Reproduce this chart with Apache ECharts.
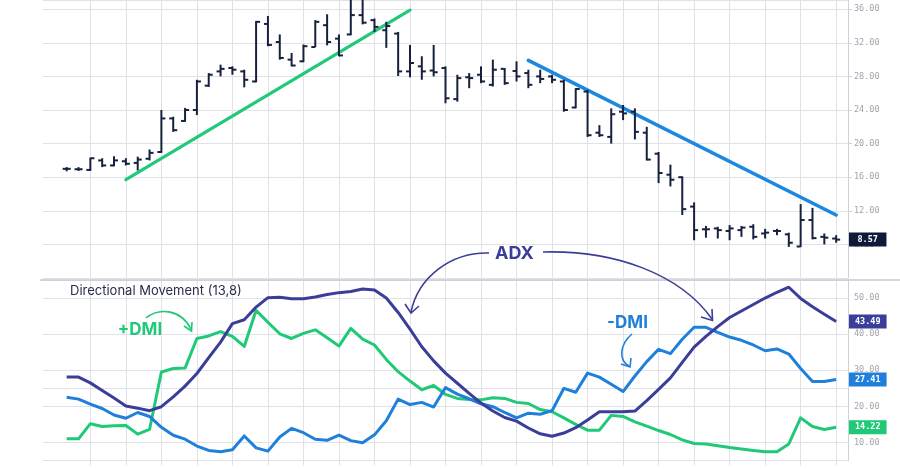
<!DOCTYPE html>
<html><head><meta charset="utf-8">
<script src="https://cdn.jsdelivr.net/npm/echarts@6/dist/echarts.min.js"></script>
<style>html,body{margin:0;padding:0;background:#fff}#c{width:900px;height:470px}</style>
</head><body><div id="c"></div>
<script>
// ---------- data ----------
const PAD = 2; // empty category slots before first bar
const categories = Array.from({length: 69}, (_, k) => String(k - PAD));
const opens  = [17.0,16.95,16.87,18.0,17.4,17.9,17.7,18.2,19.0,23.0,22.7,24.0,26.9,28.6,29.0,28.6,27.4,34.25,32.1,30.0,29.8,31.5,34.1,32.5,33.0,35.3,34.7,33.5,33.1,28.6,29.2,28.7,29.0,25.3,27.9,28.2,27.0,28.9,28.65,28.4,28.0,28.0,27.4,24.3,26.2,21.3,20.8,23.8,23.8,21.3,18.8,16.3,16.0,12.5,9.8,9.9,9.6,9.7,10.1,9.3,9.6,9.2,7.75,10.9,8.9,8.7];
const highs  = [17.2,17.2,18.33,18.26,18.5,18.26,18.45,19.3,24.0,23.2,24.25,27.6,28.4,29.4,29.2,28.8,34.6,35.2,33.0,30.8,31.8,34.7,35.4,33.0,37.5,37.5,34.9,34.5,33.3,31.75,30.4,31.75,29.2,28.2,28.4,29.2,30.0,29.0,29.8,28.8,28.8,28.2,27.6,26.6,26.4,22.2,24.2,24.6,24.2,22.0,19.0,17.5,16.1,13.0,10.2,10.1,10.3,10.2,10.4,9.85,9.85,9.4,12.8,12.35,9.3,9.1];
const lows   = [16.7,16.75,16.75,17.2,17.3,17.4,16.8,18.0,18.9,21.4,22.6,23.4,26.75,28.0,28.2,26.7,27.3,31.6,30.0,29.2,29.7,31.5,31.7,30.4,32.9,34.2,33.3,31.4,28.05,27.9,27.6,28.0,24.8,25.0,26.6,27.2,26.8,27.0,27.4,26.6,27.2,27.2,23.8,24.2,20.8,20.8,20.0,22.8,20.5,18.0,15.3,14.9,11.5,8.5,8.8,8.7,8.5,8.9,8.6,8.7,9.1,7.7,7.7,8.6,8.0,8.2];
const closes = [17.0,16.95,18.26,17.4,18.0,17.6,18.1,18.9,23.0,21.6,24.0,27.4,28.2,28.9,28.8,27.6,34.5,31.75,30.2,29.3,31.6,34.5,32.1,30.5,35.3,34.4,33.9,34.0,28.6,29.6,28.6,28.5,25.4,27.8,27.8,27.4,28.8,27.2,28.0,27.0,27.7,27.6,24.0,26.5,21.0,21.0,23.5,23.6,21.4,18.1,16.5,15.7,12.2,9.7,9.8,9.7,9.9,10.0,8.9,9.4,9.6,8.2,10.9,8.75,8.8,8.57];

const adx      = [28.1,28.1,26.5,24.4,22.3,20.1,19.5,18.8,19.9,22.6,25.6,29.1,33.5,37.8,42.9,44.0,47.5,50.1,50.2,49.8,49.8,50.3,51.0,51.5,51.8,52.5,52.2,50.0,46.0,41.4,36.5,32.6,29.2,26.4,23.6,20.9,18.7,16.9,15.9,14.0,12.4,11.7,12.6,14.1,16.2,18.5,18.5,18.5,18.7,21.6,24.7,27.9,32.2,36.4,39.4,42.1,44.6,46.4,48.2,50.0,51.6,53.0,49.9,47.6,45.5,43.49];
const plusDMI  = [11.0,11.0,15.2,14.4,14.6,14.7,12.3,13.6,29.5,30.5,30.6,38.8,39.5,40.7,39.4,36.6,46.6,43.3,40.1,38.8,40.2,41.2,39.0,36.7,41.6,38.6,37.0,33.0,29.6,27.0,24.6,25.8,23.3,22.2,21.9,21.8,22.4,22.2,21.1,20.8,19.1,18.5,16.8,15.0,13.4,13.4,17.5,17.2,15.7,14.5,13.3,12.2,10.7,9.7,9.6,9.1,8.6,8.2,7.8,7.4,7.4,9.6,16.8,14.4,13.6,14.22];
const minusDMI = [22.5,22.0,20.6,19.4,17.6,16.7,18.3,17.2,14.2,12.0,10.9,9.0,7.8,7.4,8.0,11.8,8.5,7.6,11.5,13.9,12.7,10.9,10.6,12.0,10.5,9.9,12.1,16.0,22.0,20.5,21.1,19.8,25.2,23.4,22.1,20.7,19.9,18.3,16.8,18.1,17.8,18.8,25.0,23.9,29.2,28.1,26.1,24.1,28.4,32.4,35.8,34.6,38.6,41.9,41.9,40.5,39.2,38.3,37.0,35.4,35.9,34.5,30.5,26.9,26.9,27.41];

// trend lines: [bar index, price]
const trendUp   = [[4.9, 15.7], [29.2, 35.9]];
const trendDown = [[39.2, 29.9], [65.2, 11.5]];

const priceTicks = [4, 37.1, 4];   // min, max, interval
const dmiTicks   = [5, 55, 5];
const dmiLabelled = [10, 20, 30, 40, 50];
const dmiLines    = [5, 10, 20, 25, 30, 40, 50, 55];
const timeGridBars = [2, 5, 8, 11, 14, 17, 20, 23, 26, 29, 32, 35, 38, 41, 44, 47, 50, 53, 56, 59, 62, 65];

// ---------- style ----------
const GRID = '#e1e2e8';
const BAR = '#16213e';
const C_ADX = '#3b3e98', C_PLUS = '#20c978', C_MINUS = '#1f80db', C_TUP = '#22c97a', C_TDOWN = '#1e88e0';
const MONO = '"DejaVu Sans Mono", monospace';
const SANS = 'Inter, "Noto Sans", sans-serif';

const ohlc = opens.map((o, i) => [i + PAD, o, highs[i], lows[i], closes[i]]);
const toXY = arr => arr.map((v, i) => [i + PAD, v]);
const shiftXY = arr => arr.map(p => [p[0] + PAD, p[1]]);
const tickAt = idx => timeGridBars.includes(idx - PAD);

function endLabel(value, bg, padH) {
  return {
    silent: true, symbol: ['none', 'none'], z: 20,
    lineStyle: {color: 'rgba(0,0,0,0)', width: 0, type: 'solid'},
    emphasis: {disabled: true},
    data: [{yAxis: value}],
    label: {
      show: true, position: 'end', distance: 1, formatter: value.toFixed(2),
      backgroundColor: bg, color: '#fff', fontFamily: MONO, fontSize: 8.5,
      fontWeight: 'bold', lineHeight: 10, padding: [2, padH, 2, padH]
    }
  };
}
function vGrid() {
  return {
    silent: true, symbol: ['none', 'none'], z: 0, zlevel: 0,
    lineStyle: {color: GRID, width: 1, type: 'solid'},
    emphasis: {disabled: true},
    label: {show: false},
    data: timeGridBars.map(i => ({xAxis: i + PAD}))
  };
}

// split line colours for lower axis ticks 5..55 step 5
const dmiLineColors = [];
for (let v = dmiTicks[0]; v <= dmiTicks[1]; v += dmiTicks[2]) {
  dmiLineColors.push(dmiLines.includes(v) ? GRID : 'rgba(0,0,0,0)');
}

const chart = echarts.init(document.getElementById('c'), null, {renderer: 'canvas'});
chart.setOption({
  animation: false,
  backgroundColor: '#ffffff',
  grid: [
    {left: 43, right: 52, top: 0, height: 278},
    {left: 43, right: 52, top: 280, height: 180.5}
  ],
  xAxis: [
    {type: 'category', gridIndex: 0, data: categories, boundaryGap: false,
     axisLine: {show: false}, axisTick: {show: false}, axisLabel: {show: false}, splitLine: {show: false}},
    {type: 'category', gridIndex: 1, data: categories, boundaryGap: false,
     axisLine: {show: false}, axisTick: {show: true, interval: tickAt, length: 5, lineStyle: {color: GRID}},
     axisLabel: {show: false}, splitLine: {show: false}}
  ],
  yAxis: [
    {type: 'value', gridIndex: 0, position: 'right', min: priceTicks[0], max: priceTicks[1], interval: priceTicks[2],
     axisLine: {show: true, onZero: false, lineStyle: {color: '#cfd0d8'}},
     axisTick: {show: true, length: 4, lineStyle: {color: '#cfd0d8'}},
     axisLabel: {showMinLabel: false, showMaxLabel: false, margin: 6, color: '#a3a4ad', fontFamily: MONO, fontSize: 8.5,
       formatter: v => v.toFixed(2)},
     splitLine: {show: true, lineStyle: {color: GRID, width: 1}}},
    {type: 'value', gridIndex: 1, position: 'right', min: dmiTicks[0], max: dmiTicks[1], interval: dmiTicks[2],
     axisLine: {show: true, onZero: false, lineStyle: {color: '#cfd0d8'}},
     axisTick: {show: false},
     axisLabel: {margin: 6, color: '#a3a4ad', fontFamily: MONO, fontSize: 8.5,
       formatter: v => dmiLabelled.includes(v) ? v.toFixed(2) : ''},
     splitLine: {show: true, lineStyle: {color: dmiLineColors, width: 1}}}
  ],
  series: [
    {type: 'line', name: 'gridTop', xAxisIndex: 0, yAxisIndex: 0, data: [], z: 0, markLine: vGrid()},
    {type: 'line', name: 'gridBottom', xAxisIndex: 1, yAxisIndex: 1, data: [], z: 0, markLine: vGrid()},
    {type: 'line', name: 'trendUp', xAxisIndex: 0, yAxisIndex: 0, data: shiftXY(trendUp), symbol: 'none',
     lineStyle: {color: C_TUP, width: 3.2, cap: 'round'}, z: 3},
    {type: 'line', name: 'trendDown', xAxisIndex: 0, yAxisIndex: 0, data: shiftXY(trendDown), symbol: 'none',
     lineStyle: {color: C_TDOWN, width: 3.6, cap: 'round'}, z: 3},
    {type: 'custom', name: 'price', xAxisIndex: 0, yAxisIndex: 0, data: ohlc, z: 4,
     encode: {x: 0, y: [1, 2, 3, 4]},
     renderItem: function (params, api) {
       const k = api.value(0);
       const o = api.coord([k, api.value(1)]);
       const h = api.coord([k, api.value(2)]);
       const l = api.coord([k, api.value(3)]);
       const c = api.coord([k, api.value(4)]);
       const x = o[0];
       const st = {stroke: BAR, lineWidth: 2};
       return {type: 'group', children: [
         {type: 'line', shape: {x1: x, y1: h[1], x2: x, y2: l[1]}, style: st},
         {type: 'line', shape: {x1: x - 4, y1: o[1], x2: x, y2: o[1]}, style: st},
         {type: 'line', shape: {x1: x, y1: c[1], x2: x + 4, y2: c[1]}, style: st}
       ]};
     },
     markLine: endLabel(closes[closes.length - 1], '#0d1a3a', 8.5)},
    {type: 'line', name: '+DMI', xAxisIndex: 1, yAxisIndex: 1, data: toXY(plusDMI), symbol: 'none',
     lineStyle: {color: C_PLUS, width: 3, join: 'round'}, z: 3,
     markLine: endLabel(plusDMI[plusDMI.length - 1], C_PLUS, 6)},
    {type: 'line', name: '-DMI', xAxisIndex: 1, yAxisIndex: 1, data: toXY(minusDMI), symbol: 'none',
     lineStyle: {color: C_MINUS, width: 3, join: 'round'}, z: 4,
     markLine: endLabel(minusDMI[minusDMI.length - 1], C_MINUS, 6)},
    {type: 'line', name: 'ADX', xAxisIndex: 1, yAxisIndex: 1, data: toXY(adx), symbol: 'none',
     lineStyle: {color: C_ADX, width: 3, join: 'round'}, z: 5,
     markLine: endLabel(adx[adx.length - 1], C_ADX, 6)}
  ],
  graphic: [
    {type: 'line', shape: {x1: 40, y1: 280, x2: 900, y2: 280}, style: {stroke: '#c9cad3', lineWidth: 1.5}, z: 1},
    {type: 'text', x: 70, y: 291, style: {text: 'Directional Movement (13,8)', fill: '#2a2d4e', font: '13px ' + SANS,
      textAlign: 'left', textVerticalAlign: 'middle', align: 'left', verticalAlign: 'middle'}, z: 10},
    {type: 'text', x: 140, y: 330, style: {text: '+DMI', fill: C_PLUS, font: 'bold 17px ' + SANS,
      textAlign: 'center', textVerticalAlign: 'middle', align: 'center', verticalAlign: 'middle'}, z: 10},
    {type: 'text', x: 514.5, y: 253.5, style: {text: 'ADX', fill: C_ADX, font: 'bold 18px ' + SANS,
      textAlign: 'center', textVerticalAlign: 'middle', align: 'center', verticalAlign: 'middle'}, z: 10},
    {type: 'text', x: 627.5, y: 323, style: {text: '-DMI', fill: C_MINUS, font: 'bold 17px ' + SANS,
      textAlign: 'center', textVerticalAlign: 'middle', align: 'center', verticalAlign: 'middle'}, z: 10},
    // +DMI arrow
    {type: 'bezierCurve', shape: {x1: 146, y1: 318, cpx1: 158, cpy1: 308, cpx2: 180, cpy2: 308, x2: 191, y2: 329},
     style: {stroke: C_PLUS, lineWidth: 1.6, fill: null}, z: 10},
    {type: 'polyline', shape: {points: [[184, 326], [191.5, 331], [192, 322]]},
     style: {stroke: C_PLUS, lineWidth: 1.6, fill: null}, z: 10},
    // ADX left arrow
    {type: 'bezierCurve', shape: {x1: 489, y1: 253, cpx1: 450, cpy1: 252, cpx2: 418, cpy2: 278, x2: 411, y2: 312},
     style: {stroke: C_ADX, lineWidth: 1.6, fill: null}, z: 10},
    {type: 'polyline', shape: {points: [[405, 304], [411, 313], [419, 306]]},
     style: {stroke: C_ADX, lineWidth: 1.6, fill: null}, z: 10},
    // ADX right arrow
    {type: 'bezierCurve', shape: {x1: 543, y1: 252, cpx1: 615, cpy1: 250, cpx2: 680, cpy2: 274, x2: 712, y2: 319},
     style: {stroke: C_ADX, lineWidth: 1.6, fill: null}, z: 10},
    {type: 'polyline', shape: {points: [[701, 317], [712.5, 320.5], [712, 309]]},
     style: {stroke: C_ADX, lineWidth: 1.6, fill: null}, z: 10},
    // -DMI arrow
    {type: 'bezierCurve', shape: {x1: 632, y1: 334, cpx1: 620, cpy1: 344, cpx2: 618, cpy2: 360, x2: 629, y2: 366},
     style: {stroke: C_MINUS, lineWidth: 1.6, fill: null}, z: 10},
    {type: 'polyline', shape: {points: [[621, 364], [630, 367], [631, 358]]},
     style: {stroke: C_MINUS, lineWidth: 1.6, fill: null}, z: 10}
  ]
});
</script></body></html>
